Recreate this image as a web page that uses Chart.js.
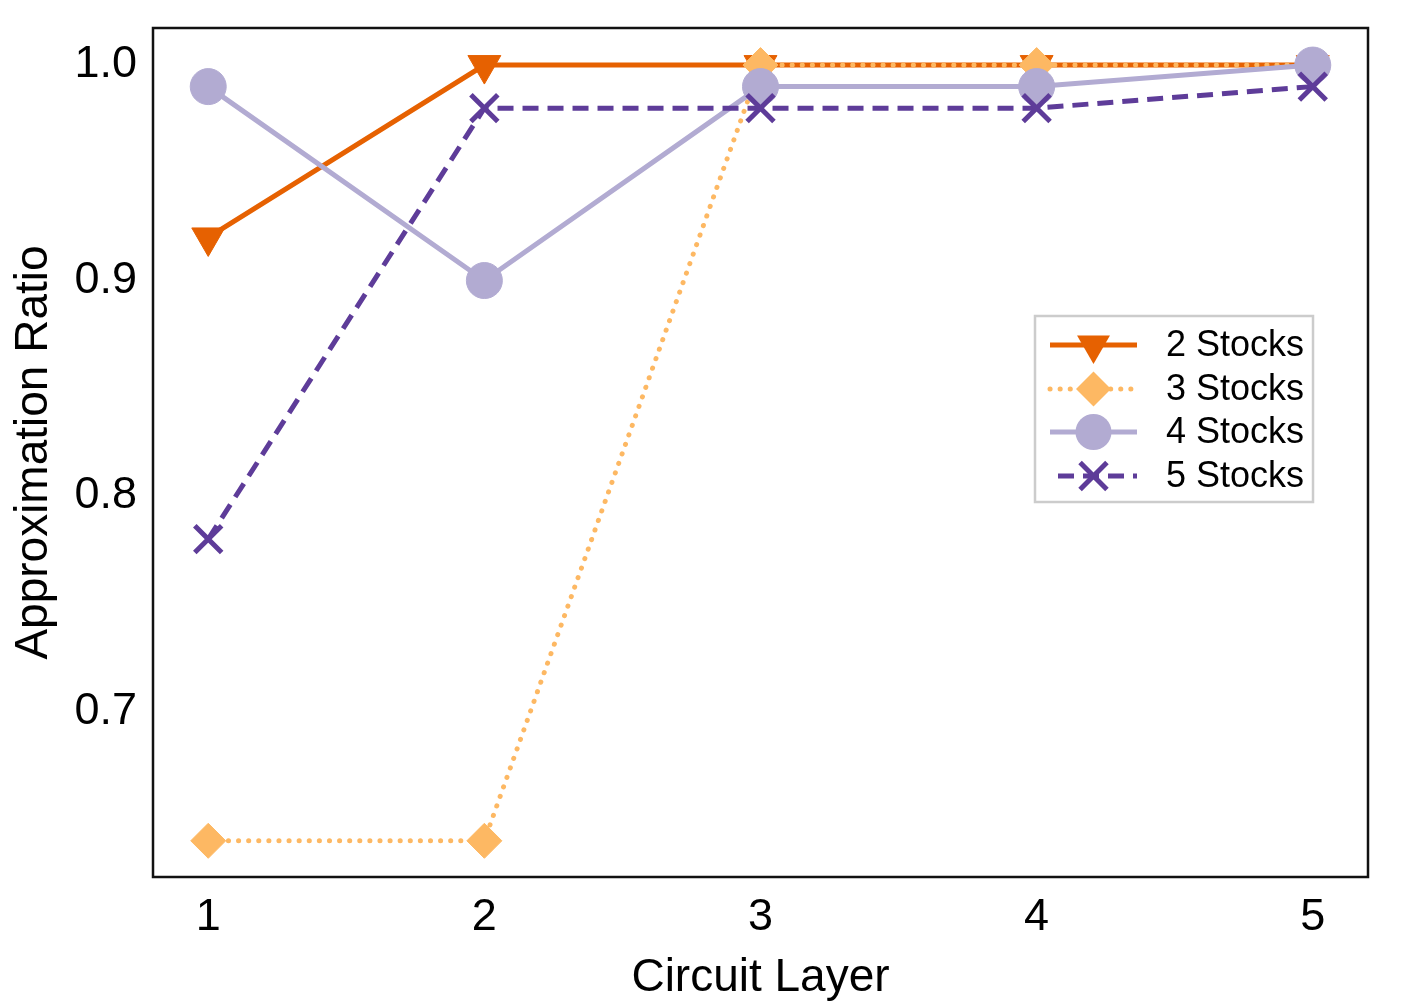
<!DOCTYPE html>
<html>
<head>
<meta charset="utf-8">
<script src="https://cdn.jsdelivr.net/npm/chart.js@4/dist/chart.umd.min.js"></script>
<style>
  html, body { margin: 0; padding: 0; background: #fff; }
  canvas { display: block; }
</style>
</head>
<body>
<canvas id="c" width="1404" height="1006"></canvas>
<script>
const layers = [1, 2, 3, 4, 5];
const stocks2 = [0.92, 1.0, 1.0, 1.0, 1.0];
const stocks3 = [0.64, 0.64, 1.0, 1.0, 1.0];
const stocks4 = [0.99, 0.90, 0.99, 0.99, 1.0];
const stocks5 = [0.78, 0.98, 0.98, 0.98, 0.99];
const seriesNames = ['2 Stocks', '3 Stocks', '4 Stocks', '5 Stocks'];
const xTickValues = [1, 2, 3, 4, 5];
const yTickValues = [0.7, 0.8, 0.9, 1.0];
const xTitle = 'Circuit Layer';
const yTitle = 'Approximation Ratio';

const FONT = "'Liberation Sans', Arial, Helvetica, sans-serif";
const colors = ['#e66101', '#fdb863', '#b2abd2', '#5e3c99'];
const styles = [
  { pointStyle: 'triangle', rotation: 180, radius: 19, dash: [], cap: 'butt', pbw: 1 },
  { pointStyle: 'rectRot', rotation: 0, radius: 17.5, dash: [0.1, 10], cap: 'round', pbw: 1 },
  { pointStyle: 'circle', rotation: 0, radius: 18, dash: [], cap: 'butt', pbw: 1 },
  { pointStyle: 'crossRot', rotation: 0, radius: 19, dash: [16, 9], cap: 'butt', pbw: 5 }
];
const seriesData = [stocks2, stocks3, stocks4, stocks5];

const datasets = seriesData.map((vals, i) => ({
  label: seriesNames[i],
  data: vals.map((v, j) => ({ x: layers[j], y: v })),
  borderColor: colors[i],
  backgroundColor: colors[i],
  borderWidth: 5,
  borderDash: styles[i].dash,
  borderCapStyle: styles[i].cap,
  pointStyle: styles[i].pointStyle,
  pointRotation: styles[i].rotation,
  pointRadius: styles[i].radius,
  pointHoverRadius: styles[i].radius,
  pointBorderWidth: styles[i].pbw,
  pointBorderColor: colors[i],
  pointBackgroundColor: colors[i],
  fill: false,
  tension: 0,
  order: 4 - i
}));

function drawMarker(ctx, style, x, y, color) {
  const r = style.radius;
  ctx.save();
  ctx.fillStyle = color;
  ctx.strokeStyle = color;
  ctx.setLineDash([]);
  ctx.beginPath();
  if (style.pointStyle === 'triangle') {
    const a0 = Math.PI;
    for (let k = 0; k < 3; k++) {
      const a = a0 + k * 2 * Math.PI / 3;
      const px = x + Math.sin(a) * r, py = y - Math.cos(a) * r;
      if (k === 0) ctx.moveTo(px, py); else ctx.lineTo(px, py);
    }
    ctx.closePath();
    ctx.fill();
  } else if (style.pointStyle === 'rectRot') {
    ctx.moveTo(x, y - r); ctx.lineTo(x + r, y); ctx.lineTo(x, y + r); ctx.lineTo(x - r, y);
    ctx.closePath();
    ctx.fill();
  } else if (style.pointStyle === 'circle') {
    ctx.arc(x, y, r, 0, Math.PI * 2);
    ctx.fill();
  } else if (style.pointStyle === 'crossRot') {
    const o = Math.cos(Math.PI / 4) * r;
    ctx.lineWidth = 5;
    ctx.moveTo(x - o, y - o); ctx.lineTo(x + o, y + o);
    ctx.moveTo(x - o, y + o); ctx.lineTo(x + o, y - o);
    ctx.stroke();
  }
  ctx.restore();
}

const framePlugin = {
  id: 'frame',
  afterDraw(chart) {
    const { ctx, chartArea: a } = chart;
    ctx.save();
    ctx.strokeStyle = '#111';
    ctx.lineWidth = 2.5;
    ctx.setLineDash([]);
    ctx.strokeRect(a.left, a.top, a.right - a.left, a.bottom - a.top);
    ctx.restore();
  }
};

const legendPlugin = {
  id: 'customLegend',
  afterDraw(chart) {
    const { ctx, chartArea: a } = chart;
    const bx = a.right - 333, by = 316, bw = 278, bh = 186;
    ctx.save();
    ctx.fillStyle = '#fff';
    ctx.fillRect(bx, by, bw, bh);
    ctx.strokeStyle = '#cccccc';
    ctx.lineWidth = 2.5;
    ctx.strokeRect(bx, by, bw, bh);
    const rowY = [345, 389, 432, 476];
    seriesNames.forEach((name, i) => {
      const y = rowY[i];
      const x0 = bx + 15, x1 = bx + 102, xm = (x0 + x1) / 2;
      ctx.save();
      ctx.strokeStyle = colors[i];
      ctx.lineWidth = 5;
      ctx.lineCap = styles[i].cap;
      ctx.setLineDash(styles[i].dash);
      if (i === 3) ctx.lineDashOffset = -8;
      ctx.beginPath();
      ctx.moveTo(x0, y); ctx.lineTo(x1, y);
      ctx.stroke();
      ctx.restore();
      drawMarker(ctx, styles[i], xm, y, colors[i]);
      ctx.fillStyle = '#000';
      ctx.font = '36px ' + FONT;
      ctx.textBaseline = 'middle';
      ctx.textAlign = 'left';
      ctx.fillText(name, bx + 131, y + 1);
    });
    ctx.restore();
  }
};

new Chart(document.getElementById('c'), {
  type: 'line',
  data: { datasets },
  options: {
    responsive: false,
    devicePixelRatio: 1,
    animation: false,
    events: [],
    layout: { padding: { left: 0, right: 36, top: 28, bottom: 0 } },
    plugins: { legend: { display: false }, tooltip: { enabled: false } },
    scales: {
      x: {
        type: 'linear',
        min: 0.8,
        max: 5.2,
        afterBuildTicks: s => { s.ticks = xTickValues.map(v => ({ value: v })); },
        afterFit: s => { s.height = 129; s.paddingLeft = 0; s.paddingRight = 0; },
        grid: { display: false, drawTicks: false },
        border: { display: false },
        ticks: {
          color: '#000',
          font: { family: FONT, size: 45 },
          padding: 14,
          maxRotation: 0,
          callback: v => String(v)
        },
        title: {
          display: true,
          text: xTitle,
          color: '#000',
          font: { family: FONT, size: 46 },
          padding: { top: 7, bottom: 0 }
        }
      },
      y: {
        type: 'linear',
        min: 0.6232,
        max: 1.0172,
        afterBuildTicks: s => { s.ticks = yTickValues.map(v => ({ value: v })); },
        afterFit: s => { s.width = 153; s.paddingTop = 0; s.paddingBottom = 0; },
        grid: { display: false, drawTicks: false },
        border: { display: false },
        ticks: {
          color: '#000',
          font: { family: FONT, size: 45 },
          padding: 16,
          callback: v => v.toFixed(1)
        },
        title: {
          display: true,
          text: yTitle,
          color: '#000',
          font: { family: FONT, size: 46 },
          padding: { top: 7, bottom: 0 }
        }
      }
    }
  },
  plugins: [framePlugin, legendPlugin]
});
</script>
</body>
</html>
